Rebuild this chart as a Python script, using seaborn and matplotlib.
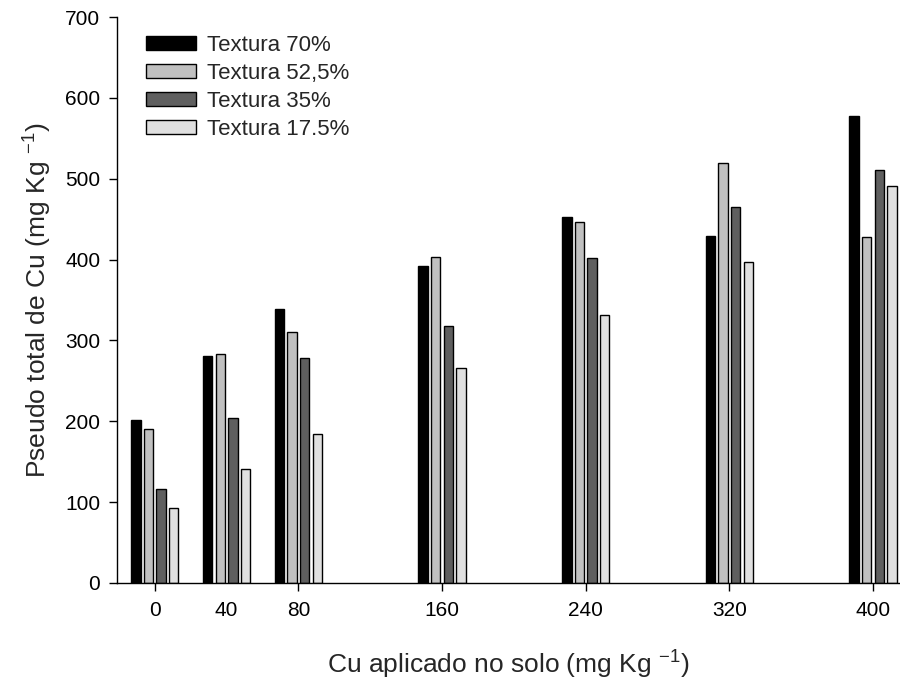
import matplotlib
matplotlib.use("Agg")
import matplotlib.pyplot as plt
import seaborn as sns
import pandas as pd

# Applied Cu doses (mg/kg) and pseudo-total Cu for each soil texture
doses = [0, 40, 80, 160, 240, 320, 400]
textures = ["Textura 70%", "Textura 52,5%", "Textura 35%", "Textura 17.5%"]
cu_70 = [201, 281, 339, 392, 453, 429, 577]
cu_525 = [191, 283, 311, 403, 446, 520, 428]
cu_35 = [116, 204, 278, 318, 402, 465, 511]
cu_175 = [93, 141, 184, 266, 332, 397, 491]
tex_colors = ["#000000", "#c0c0c0", "#5f5f5f", "#e0e0e0"]

rows = []
for tex, vals in zip(textures, [cu_70, cu_525, cu_35, cu_175]):
    for d, v in zip(doses, vals):
        rows.append({"dose": d, "cu": v, "textura": tex})
df = pd.DataFrame(rows)

sns.set_theme(style="ticks")
plt.rcParams["font.family"] = ["Liberation Sans", "DejaVu Sans"]
plt.rcParams["mathtext.fontset"] = "custom"
plt.rcParams["mathtext.rm"] = "Liberation Sans"
plt.rcParams["mathtext.default"] = "regular"

fig = plt.figure(figsize=(9, 6.81), dpi=100)
ax = fig.add_axes([0.13, 0.144, 0.87, 0.831])

sns.barplot(data=df, x="dose", y="cu", hue="textura", hue_order=textures,
            palette=tex_colors, native_scale=True, width=0.7, gap=0.25,
            edgecolor="black", linewidth=1.0, errorbar=None, ax=ax,
            saturation=1)

ax.set_xlim(-21, 415)
ax.set_ylim(0, 700)
ax.set_xticks(doses)
ax.set_xticklabels([str(d) for d in doses])
ax.set_yticks(range(0, 701, 100))
ax.tick_params(axis="both", direction="out", length=6, width=1,
               labelsize=15, color="black", labelcolor="black")
ax.tick_params(axis="x", pad=7)
ax.tick_params(axis="y", pad=6)
ax.xaxis.get_major_ticks()[1].tick1line.set_visible(False)

for side in ["top", "right"]:
    ax.spines[side].set_visible(False)
for side in ["left", "bottom"]:
    ax.spines[side].set_color("black")
    ax.spines[side].set_linewidth(1.0)

ax.set_xlabel(r"Cu aplicado no solo (mg Kg $^{-1}$)", fontsize=19, labelpad=21)
ax.set_ylabel(r"Pseudo total de Cu (mg Kg $^{-1}$)", fontsize=19, labelpad=8)

leg = ax.legend(loc="upper left", bbox_to_anchor=(0.014, 1.0), frameon=False,
                fontsize=16, handlelength=2.25, handleheight=0.6,
                handletextpad=0.5, labelspacing=0.32, borderpad=0.3)

fig.savefig("out.png", dpi=100, facecolor="white")
